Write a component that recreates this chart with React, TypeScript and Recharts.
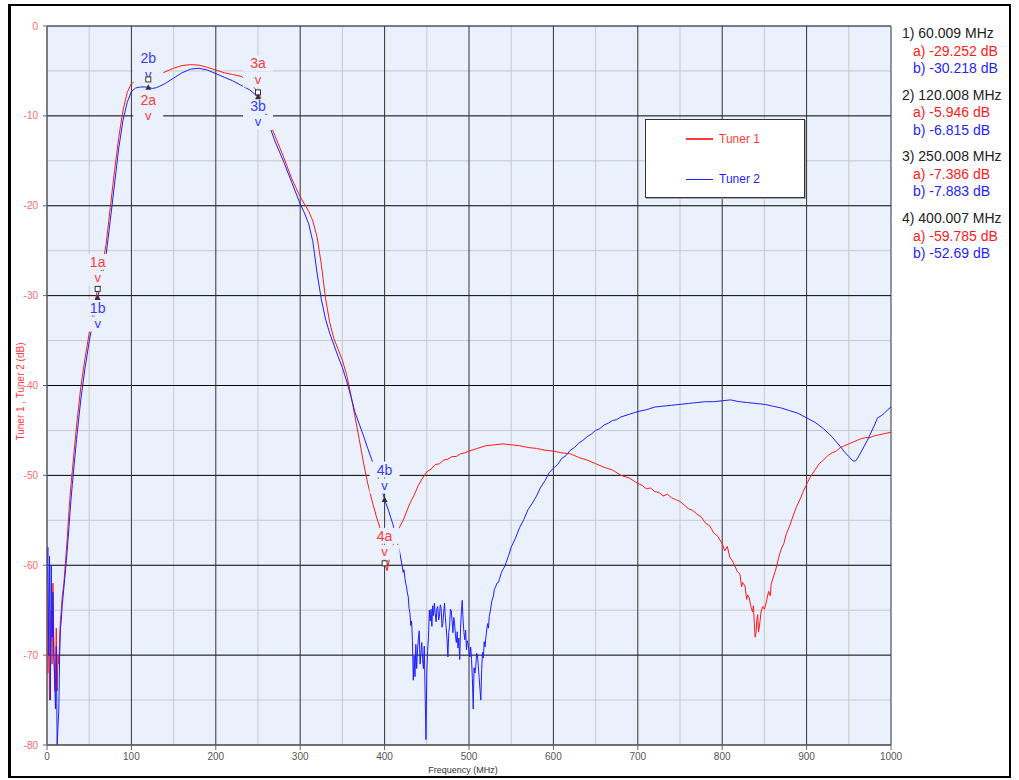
import React from 'react';
import { LineChart, Line, XAxis, YAxis, CartesianGrid, ReferenceDot, Legend } from 'recharts';

// [frequency MHz, level dB]
const tuner1: [number, number][] = [
  [0, -60], [1, -72], [2, -66], [3, -75], [4, -70], [5, -65], [6, -71], [7, -62], [8, -68], [9, -74],
  [10, -73], [11, -67], [12, -74], [13, -70], [14, -71], [15, -68], [16, -66], [17, -65], [18, -63.5], [20, -62],
  [22, -59.5], [24, -57], [26, -54], [28, -51.5], [30, -49.5], [35, -44.5], [40, -40.2], [45, -37], [50, -34.2], [55, -31.6],
  [60, -29.25], [65, -27], [70, -24.3], [75, -20.2], [80, -16.1], [85, -12.4], [90, -9.4], [95, -7.4], [100, -6.4], [105, -6.1],
  [110, -6.0], [115, -5.97], [120, -5.95], [130, -5.6], [140, -5.1], [150, -4.7], [160, -4.4], [170, -4.3], [180, -4.35], [190, -4.6],
  [200, -4.9], [210, -5.2], [220, -5.4], [230, -5.6], [240, -6.2], [250, -7.39], [255, -8.3], [260, -9.7], [265, -11], [270, -12.2],
  [280, -14.5], [290, -17], [300, -19], [305, -19.8], [310, -20.6], [315, -21.7], [320, -23.5], [325, -26.5], [330, -30.3], [335, -33],
  [340, -34.8], [345, -36], [350, -37.2], [355, -38.8], [360, -41], [365, -43.5], [370, -46], [375, -48.6], [380, -50.9], [385, -52.8],
  [390, -54.5], [395, -56], [400, -59.79], [403, -60.6], [406, -59.2], [410, -57.8], [414, -56.6], [418, -55.7], [422, -55], [425, -54.3],
  [430, -53.1], [435, -52.2], [440, -51.1], [445, -50.3], [450, -49.6], [455, -49.3], [460, -48.8], [465, -48.7], [470, -48.3], [475, -48.2],
  [480, -47.9], [485, -47.9], [490, -47.6], [495, -47.5], [500, -47.3], [510, -47], [520, -46.7], [530, -46.6], [540, -46.5], [550, -46.6],
  [560, -46.7], [570, -46.9], [580, -47], [590, -47.2], [600, -47.3], [610, -47.5], [620, -47.6], [630, -48], [640, -48.3], [650, -48.7],
  [660, -49.1], [670, -49.4], [680, -50], [690, -50.3], [700, -50.9], [705, -51.1], [710, -51.5], [715, -51.4], [720, -51.8], [725, -51.9],
  [730, -52.3], [735, -52.1], [740, -52.5], [745, -52.7], [750, -52.9], [755, -53.3], [760, -53.7], [765, -53.9], [770, -54.3], [775, -54.6],
  [780, -55.3], [785, -55.6], [790, -56.4], [795, -56.8], [800, -57.6], [803, -58.4], [806, -57.9], [809, -59.1], [812, -59.5], [815, -60.1],
  [818, -60.7], [821, -61], [823, -62.4], [824, -61.9], [827, -62.3], [829, -63.8], [830, -63.3], [832, -63.6], [834, -64.6], [836, -65.2],
  [837, -64.5], [838, -66.4], [839, -68], [840, -67.6], [841, -66.2], [842, -65.5], [843, -67.4], [844, -66.9], [846, -65.2], [848, -64.6],
  [850, -64.9], [852, -64.2], [855, -62.9], [857, -63.4], [858, -62.1], [861, -61.2], [864, -60.3], [867, -59.1], [870, -58.2], [873, -57.6],
  [876, -56.5], [880, -55.6], [884, -54.5], [888, -53.5], [892, -52.7], [896, -51.8], [901, -50.8],
  [905, -50.1], [910, -49.4], [915, -48.7], [920, -48.3], [925, -47.8], [930, -47.5], [935, -47.3], [940, -46.9], [945, -46.7], [950, -46.5],
  [955, -46.3], [960, -46.1], [965, -45.9], [970, -45.8], [975, -45.8], [980, -45.6], [985, -45.5], [990, -45.4], [995, -45.3], [1000, -45.2],
];

const tuner2: [number, number][] = [
  [0, -62], [1, -58], [2, -70], [3, -59], [4, -75], [5, -60], [6, -68], [7, -63], [8, -70], [9, -72],
  [10, -76], [11, -69], [12, -80], [13, -78], [14, -76], [15, -70], [16, -67], [17, -66], [18, -64.5], [20, -62.5],
  [22, -60.5], [24, -58.3], [26, -55.8], [28, -53.2], [30, -51], [35, -46], [40, -41.6], [45, -38.1], [50, -35.1], [55, -32.6],
  [60, -30.22], [65, -28], [70, -25.5], [75, -21.6], [80, -17.6], [85, -13.6], [90, -10.5], [95, -8.5], [100, -7.3], [105, -6.9],
  [110, -6.8], [115, -6.78], [120, -6.82], [125, -6.95], [130, -6.85], [140, -6.4], [150, -5.8], [160, -5.2], [170, -4.8], [180, -4.7],
  [190, -4.9], [200, -5.3], [210, -5.7], [220, -6.1], [230, -6.6], [240, -7.1], [250, -7.88], [255, -8.8], [260, -10.1], [265, -11.5],
  [270, -12.8], [280, -15], [290, -17.4], [300, -19.8], [305, -20.8], [310, -22], [315, -24], [320, -27.5], [325, -30.4], [330, -32.6],
  [335, -34.2], [340, -35.5], [345, -36.8], [350, -38], [355, -39.5], [360, -41.2], [365, -43], [370, -44.3], [375, -45.6], [380, -47],
  [385, -48.3], [390, -49.6], [395, -51], [400, -52.69], [405, -54], [410, -55.5], [415, -57.4], [418, -58.6],
  [421, -60.2], [422, -60.8], [423, -60.5], [424, -61.4], [425, -62], [426, -62.4], [427, -63.1], [428, -63.5], [429, -64.8], [430, -65.3],
  [431, -66.7], [432, -66.2], [433, -68.4], [434, -72.8], [435, -70.1], [436, -72.4], [437, -68.8], [438, -71.5], [439, -69.4], [440, -68.2],
  [441, -67.3], [442, -71], [443, -69.8], [444, -68.6], [445, -70.5], [446, -71.5], [447, -69], [448, -74.2], [449, -79.4], [450, -72],
  [451, -69.5], [452, -68], [453, -65], [454, -66.2], [455, -64.9], [456, -66.8], [457, -64.5], [458, -65.6], [459, -64.2], [460, -65.4],
  [461, -66.3], [462, -64.8], [463, -64.6], [464, -66.1], [465, -65.7], [466, -64.4], [467, -64.8], [468, -66.9], [469, -66.5], [470, -65.2],
  [471, -64.2], [472, -65.8], [473, -67], [474, -68.3], [475, -70.2], [476, -67.5], [477, -66.8], [478, -64.9], [479, -65], [480, -66.3],
  [481, -67.5], [482, -65.8], [483, -66.5], [484, -67.9], [485, -68.6], [486, -67.4], [487, -69.2], [488, -68.1], [489, -70.5], [490, -67],
  [491, -65.2], [492, -63.9], [493, -66.1], [494, -67.5], [495, -68.3], [496, -67.2], [497, -69.4], [498, -68.4], [499, -68.8], [500, -69.6],
  [501, -70.2], [502, -69.1], [503, -70.5], [504, -72.6], [505, -76], [506, -71.4], [507, -72], [508, -71.3], [509, -69.8], [510, -70],
  [511, -71.2], [512, -72.5], [513, -73.8], [514, -75], [515, -71.6], [516, -69.7], [517, -70.3], [518, -68.5], [519, -69.1], [520, -68],
  [521, -67.2], [522, -66.5], [523, -67], [524, -65.7], [525, -65.2], [527, -64], [529, -63.4], [530, -62.7], [532, -62.3], [533, -62],
  [535, -61.9], [536, -61.6], [538, -60.9], [540, -60.5], [542, -60.2], [544, -59.7], [547, -58.9],
  [550, -58], [555, -57], [560, -55.8], [565, -54.9], [570, -53.8], [575, -53.1], [580, -52.3], [585, -51.3], [590, -50.6], [595, -49.7],
  [600, -49.2], [605, -48.8], [610, -48.1], [615, -47.8], [620, -47.2], [625, -46.9], [630, -46.4], [635, -46.1], [640, -45.7], [645, -45.4],
  [650, -45], [655, -44.8], [660, -44.4], [665, -44.2], [670, -43.9], [675, -43.8], [680, -43.5], [690, -43.2], [700, -42.9], [710, -42.7],
  [720, -42.4], [730, -42.3], [740, -42.2], [750, -42.1], [760, -42], [770, -41.9], [780, -41.8], [790, -41.8], [800, -41.7], [810, -41.6],
  [820, -41.8], [830, -41.9], [840, -42], [850, -42.1], [860, -42.3], [870, -42.5], [880, -42.8], [890, -43.1], [900, -43.6], [910, -44.1],
  [920, -44.8], [930, -45.7], [940, -46.8], [945, -47.4], [950, -47.9], [955, -48.4], [958, -48.4], [961, -48], [964, -47.5], [968, -46.8],
  [972, -46.1], [975, -45.5], [980, -44.5], [984, -43.6], [988, -43.4], [992, -43.1], [996, -42.7], [1000, -42.4],
];

const markerFreq = [60.009, 120.008, 250.008, 400.007];
const markerA = [-29.252, -5.946, -7.386, -59.785];
const markerB = [-30.218, -6.815, -7.883, -52.69];

const xTicks = [0, 100, 200, 300, 400, 500, 600, 700, 800, 900, 1000];
const xMinor = [50, 150, 250, 350, 450, 550, 650, 750, 850, 950];
const yTicks = [0, -10, -20, -30, -40, -50, -60, -70, -80];
const yMinor = [-5, -15, -25, -35, -45, -55, -65, -75];

const FONT = '"Liberation Sans", Arial, sans-serif';
const PLOT_BG = '#eaf0fc';
const RED = '#ff1a1a';
const BLUE = '#1f1fff';
const LABEL_RED = '#ff3b3b';
const LABEL_BLUE = '#3a3aff';

// vertical offset (px) of each marker's label from its own marker
const LABEL_DY = { a: [-27, 20.5, -29, -27.5], b: [10, -29, 9, -30] };

const data1 = tuner1.map(([f, db]) => ({ f, db }));
const data2 = tuner2.map(([f, db]) => ({ f, db }));

const MarkerLabel = (props: any) => {
  const { cx, cy, text, color, dy } = props;
  if (cx == null || cy == null) return null;
  const ty = cy + dy;
  return (
    <g>
      <rect x={cx - 15} y={ty - 8} width={30} height={16} fill={PLOT_BG} />
      <rect x={cx - 15} y={ty + 9} width={30} height={15} fill={PLOT_BG} />
      <text x={cx} y={ty} textAnchor="middle" dominantBaseline="central" fill={color} fontSize={14} fontFamily={FONT}>
        {text}
      </text>
      <text x={cx} y={ty + 16} textAnchor="middle" dominantBaseline="central" fill={color} fontSize={13} fontFamily={FONT}>
        v
      </text>
    </g>
  );
};

const MarkerSymbol = (props: any) => {
  const { cx, cy, kind } = props;
  if (cx == null || cy == null) return null;
  if (kind === 'a') {
    return <rect x={cx - 2.5} y={cy - 2.5} width={5} height={5} fill="#fff" stroke="#333" strokeWidth={1} />;
  }
  return <path d={`M${cx},${cy - 3} L${cx + 3},${cy + 2.5} L${cx - 3},${cy + 2.5} Z`} fill="#333" />;
};

const LegendBox = () => (
  <div
    style={{
      width: 160,
      height: 79,
      boxSizing: 'border-box',
      background: '#fff',
      border: '1px solid #333',
      boxShadow: '1px 1px 0 #aaa',
      position: 'relative',
      fontFamily: FONT,
      fontSize: 12,
    }}
  >
    {[
      { name: 'Tuner 1', color: LABEL_RED, w: 2 },
      { name: 'Tuner 2', color: BLUE, w: 1 },
    ].map((s, i) => (
      <div key={s.name} style={{ position: 'absolute', left: 40, top: 11 + i * 40, height: 16, display: 'flex', alignItems: 'center' }}>
        <span style={{ display: 'inline-block', width: 27, borderTop: `${s.w}px solid ${s.color}`, marginRight: 6 }} />
        <span style={{ color: s.color }}>{s.name}</span>
      </div>
    ))}
  </div>
);

const YTitle = (props: any) => {
  const vb = props.viewBox || { x: 7, y: 26, width: 40, height: 719 };
  const x = vb.x + 13;
  const y = vb.y + vb.height / 2 + 6;
  return (
    <text
      transform={`translate(${x},${y}) rotate(-90)`}
      textAnchor="middle"
      dominantBaseline="central"
      fill={LABEL_RED}
      fontSize={10}
      fontFamily={FONT}
    >
      Tuner 1 , Tuner 2 (dB)
    </text>
  );
};

const XTitle = (props: any) => {
  const vb = props.viewBox || { x: 47, y: 745, width: 844, height: 35 };
  return (
    <text
      x={vb.x + vb.width / 2 - 6}
      y={vb.y + 24.5}
      textAnchor="middle"
      dominantBaseline="central"
      fill="#333"
      fontSize={9}
      fontFamily={FONT}
    >
      Frequency (MHz)
    </text>
  );
};

export default function App() {
  return (
    <div style={{ position: 'absolute', left: 0, top: 0, width: 1019, height: 780, background: '#fff' }}>
      <LineChart width={1019} height={780} margin={{ top: 26, right: 128, bottom: 0, left: 7 }}>
        <CartesianGrid fill={PLOT_BG} stroke="#c8c8c8" verticalValues={xMinor} horizontalValues={yMinor} />
        <CartesianGrid stroke="#000" vertical={false} horizontalValues={yTicks} />
        <CartesianGrid stroke="#333" horizontal={false} verticalValues={xTicks} />
        <XAxis
          dataKey="f"
          type="number"
          domain={[0, 1000]}
          ticks={xTicks}
          allowDataOverflow
          height={35}
          stroke="#666"
          tickSize={5}
          tickMargin={3}
          tick={{ fill: '#555', fontSize: 10, fontFamily: FONT }}
          label={<XTitle />}
        />
        <YAxis
          type="number"
          domain={[-80, 0]}
          ticks={yTicks}
          allowDataOverflow
          width={40}
          stroke="#666"
          tickSize={4}
          tickMargin={5}
          tick={{ fill: '#ff6a6a', fontSize: 10, fontFamily: FONT }}
          label={<YTitle />}
        />
        <Line data={data1} dataKey="db" name="Tuner 1" stroke={RED} strokeWidth={1} dot={false} type="linear" isAnimationActive={false} />
        <Line data={data2} dataKey="db" name="Tuner 2" stroke={BLUE} strokeWidth={1} dot={false} type="linear" isAnimationActive={false} />
        {markerFreq.map((f, i) => (
          <ReferenceDot
            key={`la${i}`}
            x={f}
            y={markerA[i]}
            ifOverflow="visible"
            shape={(p: any) => <MarkerLabel {...p} text={`${i + 1}a`} color={LABEL_RED} dy={LABEL_DY.a[i]} />}
          />
        ))}
        {markerFreq.map((f, i) => (
          <ReferenceDot
            key={`lb${i}`}
            x={f}
            y={markerB[i]}
            ifOverflow="visible"
            shape={(p: any) => <MarkerLabel {...p} text={`${i + 1}b`} color={LABEL_BLUE} dy={LABEL_DY.b[i]} />}
          />
        ))}
        {markerFreq.map((f, i) => (
          <ReferenceDot key={`sa${i}`} x={f} y={markerA[i]} ifOverflow="visible" shape={(p: any) => <MarkerSymbol {...p} kind="a" />} />
        ))}
        {markerFreq.map((f, i) => (
          <ReferenceDot key={`sb${i}`} x={f} y={markerB[i]} ifOverflow="visible" shape={(p: any) => <MarkerSymbol {...p} kind="b" />} />
        ))}
        <Legend
          layout="vertical"
          align="center"
          verticalAlign="middle"
          wrapperStyle={{ left: 645, top: 119, width: 160, height: 79 }}
          content={() => <LegendBox />}
        />
      </LineChart>
      <div style={{ position: 'absolute', left: 902, top: 25, fontFamily: FONT, fontSize: 14, lineHeight: '17.5px' }}>
        {markerFreq.map((f, i) => (
          <div key={f} style={{ marginBottom: 9.2 }}>
            <div style={{ color: '#222' }}>{`${i + 1}) ${f} MHz`}</div>
            <div style={{ color: RED, paddingLeft: 11 }}>{`a) ${markerA[i]} dB`}</div>
            <div style={{ color: BLUE, paddingLeft: 11 }}>{`b) ${markerB[i]} dB`}</div>
          </div>
        ))}
      </div>
      <div
        style={{
          position: 'absolute',
          left: 8,
          top: 4,
          width: 1003,
          height: 774,
          boxSizing: 'border-box',
          borderTop: '2px solid #000',
          borderLeft: '3px solid #000',
          borderRight: '2px solid #000',
          borderBottom: '2px solid #000',
          pointerEvents: 'none',
        }}
      />
    </div>
  );
}
